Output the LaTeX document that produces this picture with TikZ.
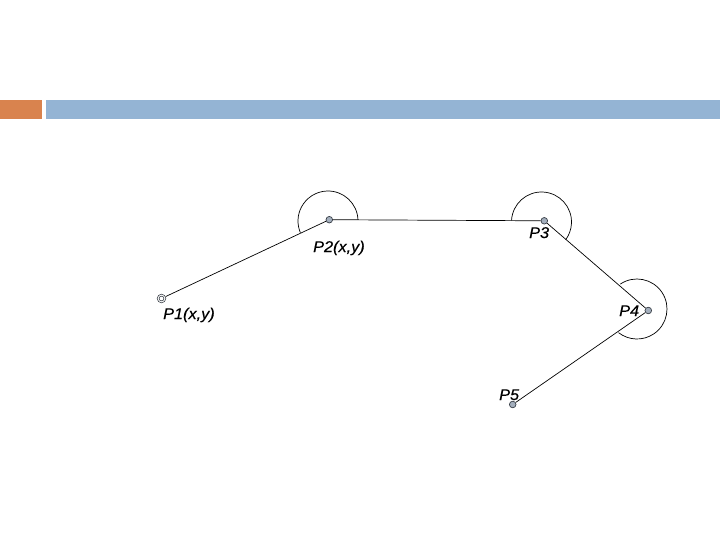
\documentclass[tikz,border=0pt]{standalone}
\usepackage{fontspec}
\newfontfamily\labfont[FakeStretch=1.05,FakeBold=0.4]{Liberation Sans}
\definecolor{barorange}{HTML}{D9834E}
\definecolor{barblue}{HTML}{94B4D4}
\definecolor{dotfill}{HTML}{A3AEBC}
\definecolor{dotline}{HTML}{3A4048}
\tikzset{
  dotnode/.style={circle,draw=dotline,fill=dotfill,line width=0.7pt,inner sep=0pt,minimum size=6.6pt},
  startnode/.style={circle,draw=dotline,line width=0.6pt,inner sep=0pt,minimum size=8.6pt},
  link/.style={draw=black,line width=0.7pt},
  anglearc/.style={draw=black,line width=0.7pt},
  lab/.style={inner sep=0pt,anchor=base west,font=\labfont\itshape\fontsize{15.5}{18}\selectfont}
}
\begin{document}
\begin{tikzpicture}[x=1pt,y=1pt]
\useasboundingbox (0,0) rectangle (720,-540);
% header bars
\fill[barorange] (0,-100) rectangle (42,-119);
\fill[barblue] (46,-100) rectangle (720,-119);
% points
\node[startnode] (p1) at (161.5,-298.5) {};
\draw[dotline,line width=0.6pt] (p1.center) circle (2.4pt);
\node[dotnode] (p2) at (329.3,-219.7) {};
\node[dotnode] (p3) at (544.3,-220.8) {};
\node[dotnode] (p4) at (648.3,-310.5) {};
\node[dotnode] (p5) at (512.7,-404.5) {};
% connectors
\draw[link] (p1) -- (p2);
\draw[link] (p2) -- (p3);
\draw[link] (p3) -- (p4);
\draw[link] (p4) -- (p5);
% angle arcs
\coordinate (c2) at (328,-221);
\coordinate (c3) at (541.5,-222);
\coordinate (c4) at (637,-309);
\draw[anglearc] (c2) ++(2:30pt) arc[start angle=2,end angle=203,radius=30pt];
\draw[anglearc] (c3) ++(177:30pt) arc[start angle=177,end angle=-36,radius=30pt];
\draw[anglearc] (c4) ++(124:30pt) arc[start angle=124,end angle=-128,radius=30pt];
% labels
\node[lab] (l1) at (163,-319) {P1(x,y)};
\node[lab] (l2) at (313,-252) {P2(x,y)};
\node[lab] (l3) at (529,-238) {P3};
\node[lab] (l4) at (619,-316) {P4};
\node[lab] (l5) at (499,-400) {P5};
\end{tikzpicture}
\end{document}
